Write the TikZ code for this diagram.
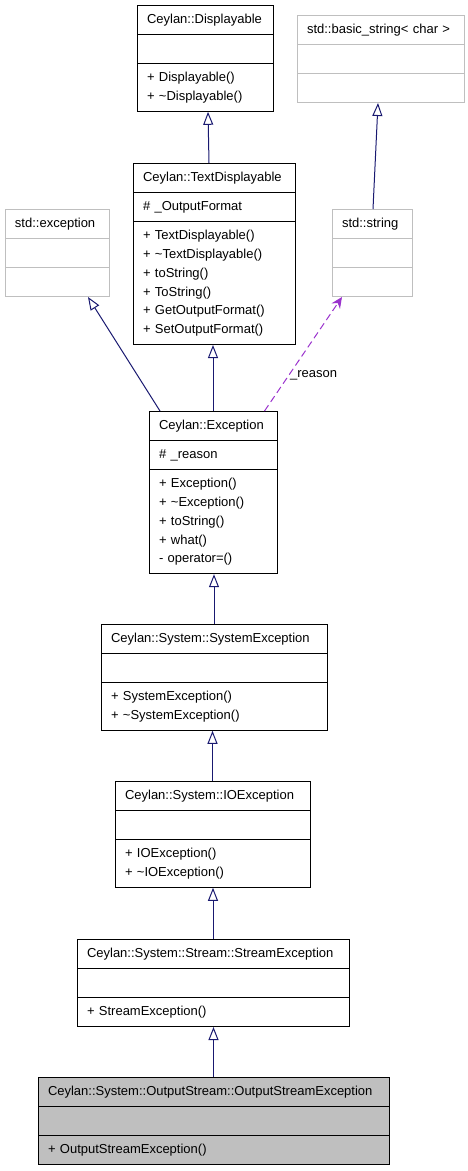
\documentclass[tikz,border=0pt]{standalone}
\usepackage{fontspec}
\setmainfont{Liberation Sans}
\usepackage{tikz}
\usetikzlibrary{arrows.meta, shapes.multipart}
\definecolor{edgeblue}{RGB}{25,25,112}
\definecolor{usagepurple}{RGB}{154,50,205}
\definecolor{extgray}{RGB}{191,191,191}

\begin{document}
\begin{tikzpicture}[
    x=1pt, y=-1pt,
    classbox/.style={draw, line width=1pt, rectangle split, rectangle split parts=3, anchor=north, inner xsep=10pt, inner ysep=4.6pt, align=left, font=\fontsize{13}{18.8}\selectfont},
    extbox/.style={classbox, draw=extgray},
    inheritarrow/.style={-{Triangle[open, length=13pt, width=10pt]}, line width=1pt, draw=edgeblue},
    usagearrow/.style={-{Stealth[length=11pt, width=10pt]}, line width=1pt, draw=usagepurple, dash pattern=on 7pt off 4pt}
]
    \useasboundingbox (0,0) rectangle (468,1171);

    % Base classes
    \node[classbox, text width=116pt] (disp) at (205,5) {\centering\strut Ceylan::Displayable
        \nodepart{two}\strut
        \nodepart{three}\strut + Displayable()\\\strut + \textasciitilde Displayable()};
    \node[extbox, text width=147pt] (bstr) at (380.5,15) {\centering\strut std::basic\_string< char >
        \nodepart{two}\strut
        \nodepart{three}\strut};
    \node[classbox, text width=142pt] (txt) at (214,163) {\centering\strut Ceylan::TextDisplayable
        \nodepart{two}\strut \# \_OutputFormat
        \nodepart{three}\strut + TextDisplayable()\\\strut + \textasciitilde TextDisplayable()\\\strut + toString()\\\strut + ToString()\\\strut + GetOutputFormat()\\\strut + SetOutputFormat()};
    \node[extbox, text width=84pt] (sexc) at (57,209) {\centering\strut std::exception
        \nodepart{two}\strut
        \nodepart{three}\strut};
    \node[extbox, text width=60pt] (str) at (372,209) {\centering\strut std::string
        \nodepart{two}\strut
        \nodepart{three}\strut};

    % Exception chain
    \node[classbox, text width=108pt] (excp) at (213,411) {\centering\strut Ceylan::Exception
        \nodepart{two}\strut \# \_reason
        \nodepart{three}\strut + Exception()\\\strut + \textasciitilde Exception()\\\strut + toString()\\\strut + what()\\\strut - operator=()};
    \node[classbox, text width=206pt] (sys) at (214,624) {\centering\strut Ceylan::System::SystemException
        \nodepart{two}\strut
        \nodepart{three}\strut + SystemException()\\\strut + \textasciitilde SystemException()};
    \node[classbox, text width=175pt] (io) at (212.5,781) {\centering\strut Ceylan::System::IOException
        \nodepart{two}\strut
        \nodepart{three}\strut + IOException()\\\strut + \textasciitilde IOException()};
    \node[classbox, text width=252pt] (strm) at (213,939) {\centering\strut Ceylan::System::Stream::StreamException
        \nodepart{two}\strut
        \nodepart{three}\strut + StreamException()};
    \node[classbox, fill=extgray, text width=331pt] (out) at (213.5,1077) {\centering\strut Ceylan::System::OutputStream::OutputStreamException
        \nodepart{two}\strut
        \nodepart{three}\strut + OutputStreamException()};

    % Inheritance
    \draw[inheritarrow] ([xshift=-5pt]txt.north) -- ([xshift=3pt]disp.south);
    \draw[inheritarrow] ([xshift=1pt]str.north) -- ([xshift=-2.5pt]bstr.south);
    \draw[inheritarrow] ([xshift=-53pt]excp.north) -- ([xshift=31pt]sexc.south);
    \draw[inheritarrow] (excp.north) -- (excp.north |- txt.south);
    \draw[inheritarrow] (sys.north) -- (sys.north |- excp.south);
    \draw[inheritarrow] (io.north) -- (io.north |- sys.south);
    \draw[inheritarrow] (strm.north) -- (strm.north |- io.south);
    \draw[inheritarrow] (out.north) -- (out.north |- strm.south);

    % Usage
    \draw[usagearrow] ([xshift=51.5pt]excp.north) -- node[pos=0.31, anchor=west, inner sep=1pt, font=\fontsize{13}{18.8}\selectfont] (reason) {\_reason} ([xshift=-30pt]str.south);
\end{tikzpicture}
\end{document}
